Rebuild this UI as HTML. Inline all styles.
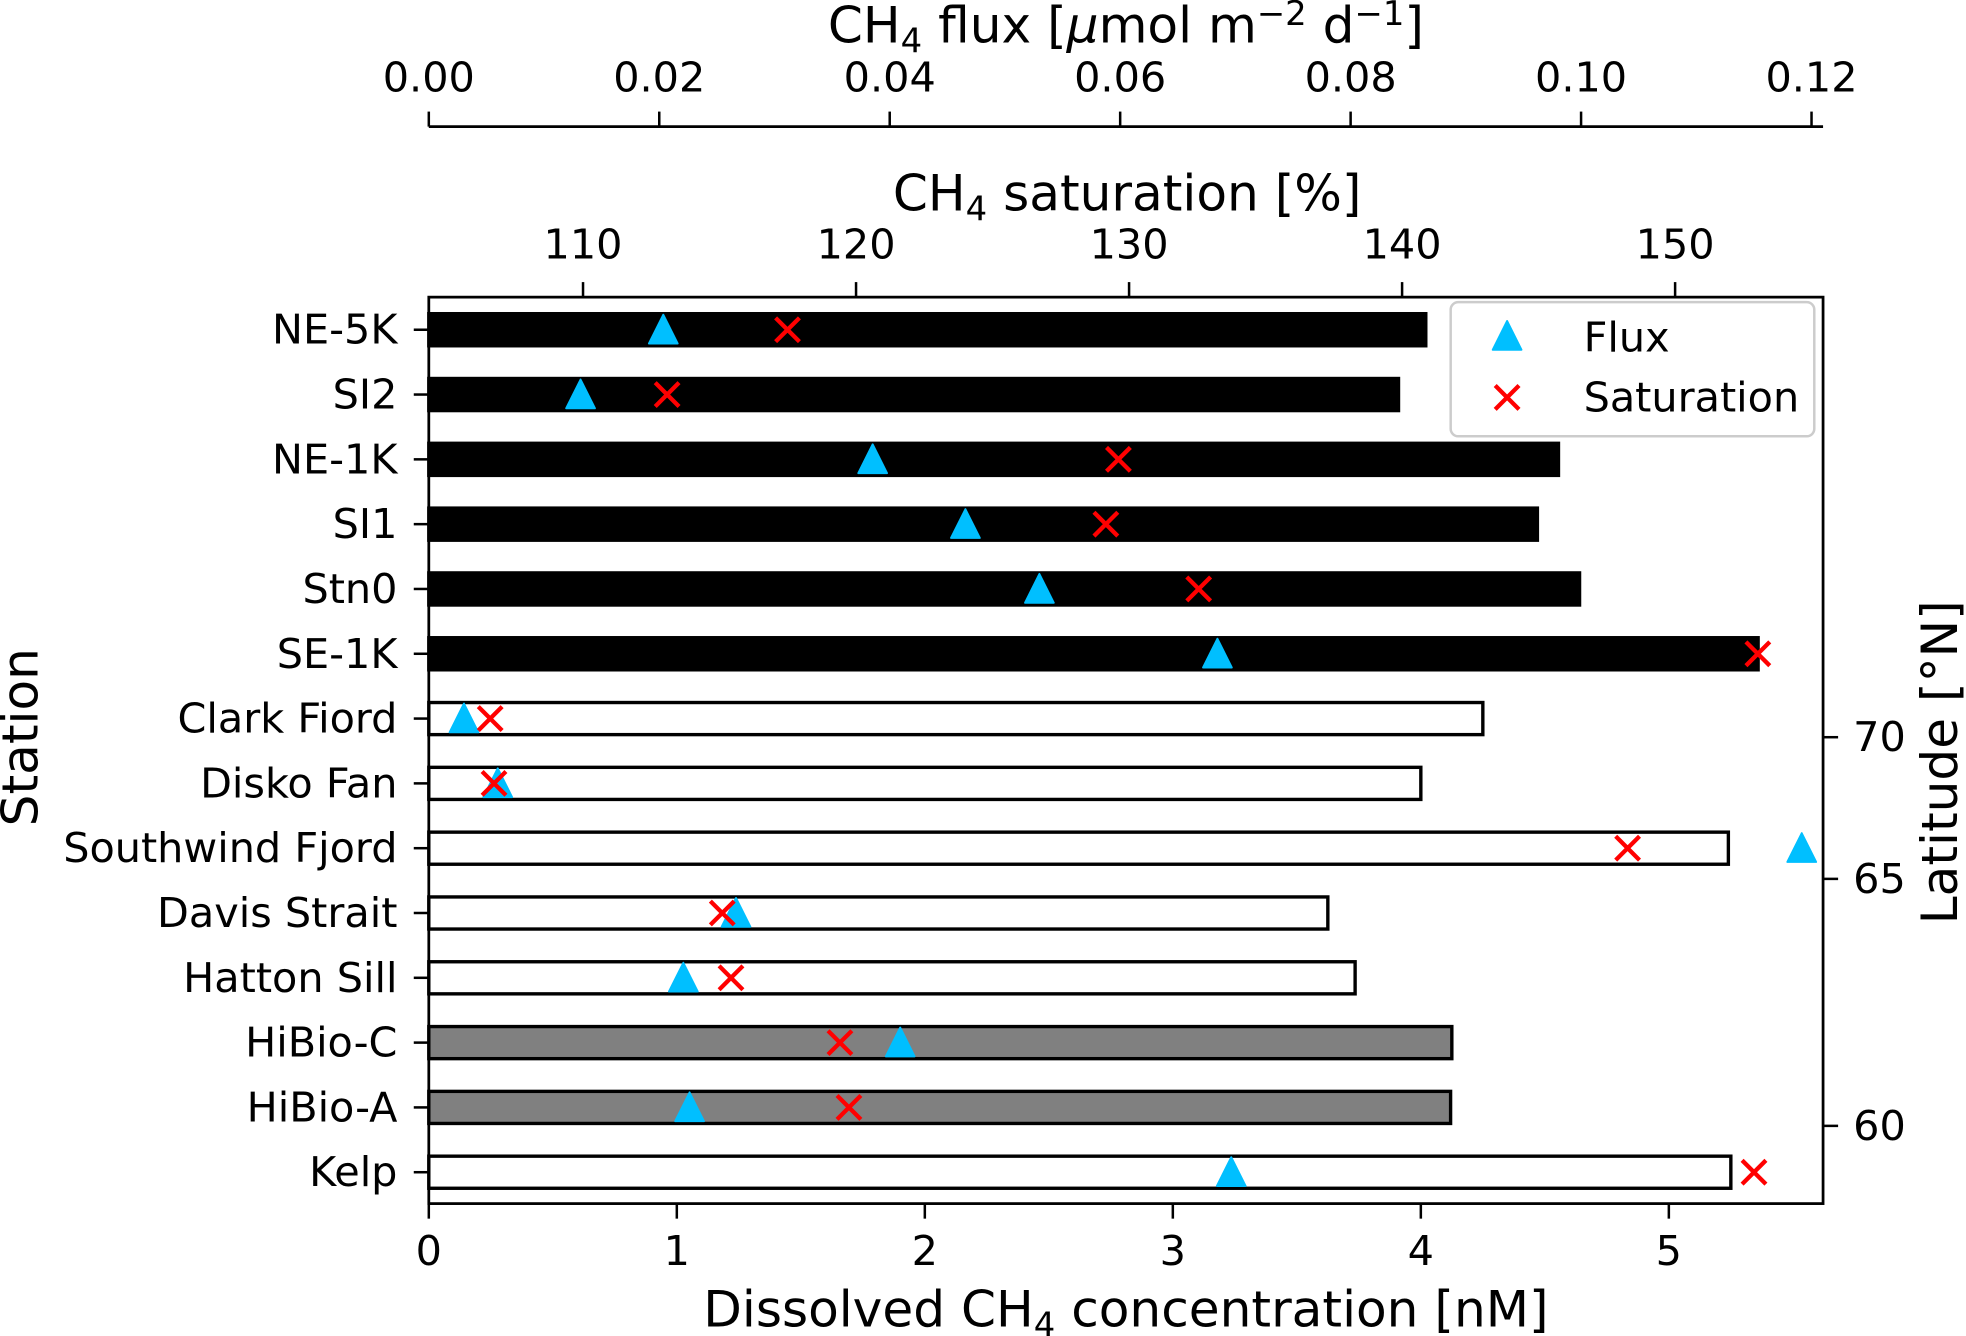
<!DOCTYPE html>
<html><head><meta charset="utf-8"><style>
html,body{margin:0;padding:0;background:#fff;}
svg{display:block;font-family:"DejaVu Sans","Liberation Sans",sans-serif;}
</style></head><body>
<svg id="chart" xmlns="http://www.w3.org/2000/svg" width="1966" height="1336" viewBox="0 0 1568 1065.6" preserveAspectRatio="none"></svg>
<script>
const stations = ["NE-5K","SI2","NE-1K","SI1","Stn0","SE-1K","Clark Fiord","Disko Fan","Southwind Fjord","Davis Strait","Hatton Sill","HiBio-C","HiBio-A","Kelp"];
const concentration = [4.02,3.91,4.555,4.47,4.64,5.36,4.25,4.0,5.24,3.625,3.735,4.125,4.12,5.25];
const barGroup = ["black","black","black","black","black","black","white","white","white","white","white","gray","gray","white"];
const fluxValues = [0.02035,0.01317,0.03852,0.04657,0.05299,0.06844,0.00305,0.00598,0.11915,0.02666,0.02209,0.04091,0.02263,0.06964];
const saturationValues = [117.49,113.08,129.61,129.15,132.55,153.03,106.60,106.74,148.26,115.10,115.42,119.41,119.74,152.89];
const concTicks = [0,1,2,3,4,5];
const satTicks = [110,120,130,140,150];
const fluxTicks = ["0.00","0.02","0.04","0.06","0.08","0.10","0.12"];
const latTicks = [70,65,60];

const NS="http://www.w3.org/2000/svg";
const svg=document.getElementById('chart');
const L=342,R=1454,T=237,B=960;
const FS=33;
const xC=v=>L+v*197.8;
const xS=v=>247.25+(v-100)*21.775;
const xF=v=>L+v/0.02*183.8;
const yRow=i=>263+i*51.69;
const yLat=v=> v>=65 ? 701-(v-65)*22.6 : 701+(65-v)*39.4;
const fillOf={black:"#000",white:"#fff",gray:"#808080"};
function el(tag,attrs,parent){const e=document.createElementNS(NS,tag);for(const k in attrs)e.setAttribute(k,attrs[k]);(parent||svg).appendChild(e);return e;}
function txt(s,x,y,size,anchor,parent){const t=el('text',{x:x,y:y,'font-size':size,'text-anchor':anchor||'middle','dominant-baseline':'central',fill:'#000'},parent);t.textContent=s;return t;}

const gb=el('g',{});


stations.forEach((s,i)=>{
  const r=el('rect',{x:L,y:yRow(i)-12.8,width:xC(concentration[i])-L,height:25.6,fill:fillOf[barGroup[i]],stroke:'#000','stroke-width':2.7},gb);
  
  
});
const gf=el('g',{});


fluxValues.forEach((v,i)=>{
  const x=xF(v),y=yRow(i);
  const p=el('polygon',{points:`${x},${y-12} ${x-11.5},${y+11} ${x+11.5},${y+11}`,fill:'#00BFFF','stroke':'#00BFFF','stroke-width':1.5,'stroke-linejoin':'round'},gf);
  
  
});
const gs=el('g',{});


saturationValues.forEach((v,i)=>{
  const x=xS(v),y=yRow(i),d=9.5;
  const p=el('path',{d:`M${x-d},${y-d}L${x+d},${y+d}M${x-d},${y+d}L${x+d},${y-d}`,stroke:'#FF0000','stroke-width':3.4,fill:'none'},gs);
  
  
});
const sp=el('rect',{x:L,y:T,width:R-L,height:B-T,fill:'none',stroke:'#000','stroke-width':2.2});


stations.forEach((s,i)=>{
  el('line',{x1:L-12,x2:L,y1:yRow(i),y2:yRow(i),stroke:'#000','stroke-width':2});
  const t=txt(s,317,yRow(i),FS,'end');
  
  
});
concTicks.forEach(v=>{
  el('line',{x1:xC(v),x2:xC(v),y1:B,y2:B+12,stroke:'#000','stroke-width':2});
  const t=txt(String(v),xC(v),998,FS);
  
  
});
satTicks.forEach(v=>{
  el('line',{x1:xS(v),x2:xS(v),y1:T-12,y2:T,stroke:'#000','stroke-width':2});
  const t=txt(String(v),xS(v),195,FS);
  
  
});
el('line',{x1:L,x2:R,y1:101,y2:101,stroke:'#000','stroke-width':2.2});
fluxTicks.forEach(s=>{
  const x=xF(parseFloat(s));
  el('line',{x1:x,x2:x,y1:89,y2:101,stroke:'#000','stroke-width':2});
  const t=txt(s,x,62,FS);
  
  
});
latTicks.forEach(v=>{
  el('line',{x1:R,x2:R+12,y1:yLat(v),y2:yLat(v),stroke:'#000','stroke-width':2});
  const t=txt(String(v),1478,yLat(v),FS,'start');
  
  
});
</script>
<svg style="position:absolute;left:0;top:0" width="1966" height="1336" viewBox="0 0 1568 1065.6" preserveAspectRatio="none" xmlns="http://www.w3.org/2000/svg" font-family="DejaVu Sans, Liberation Sans, sans-serif">
  <text x="898" y="34" font-size="40" text-anchor="middle">CH<tspan font-size="27" dy="8">4</tspan><tspan dy="-8"> flux [</tspan><tspan font-style="italic">μ</tspan>mol m<tspan font-size="27" dy="-14">−2</tspan><tspan dy="14"> d</tspan><tspan font-size="27" dy="-14">−1</tspan><tspan dy="14">]</tspan></text>
  <text x="899" y="168" font-size="40" text-anchor="middle">CH<tspan font-size="27" dy="8">4</tspan><tspan dy="-8"> saturation [%]</tspan></text>
  <text x="898" y="1058" font-size="40" text-anchor="middle">Dissolved CH<tspan font-size="27" dy="8">4</tspan><tspan dy="-8"> concentration [nM]</tspan></text>
  <text transform="translate(30,588) rotate(-90)" font-size="40" text-anchor="middle">Station</text>
  <text transform="translate(1561,608) rotate(-90)" font-size="40" text-anchor="middle">Latitude [°N]</text>
  <g>
    <rect x="1157" y="241" width="290" height="107" rx="6" fill="#fff" fill-opacity="0.8" stroke="#cccccc" stroke-width="2"/>
    <polygon points="1202,256 1190.5,279 1213.5,279" fill="#00BFFF" stroke="#00BFFF" stroke-width="1.5" stroke-linejoin="round"/>
    <text x="1263" y="269" font-size="33" dominant-baseline="central">Flux</text>
    <path d="M1192.5,307.5L1211.5,326.5M1192.5,326.5L1211.5,307.5" stroke="#FF0000" stroke-width="3.4"/>
    <text x="1263" y="317" font-size="33" dominant-baseline="central">Saturation</text>
  </g>
</svg>
</body></html>
